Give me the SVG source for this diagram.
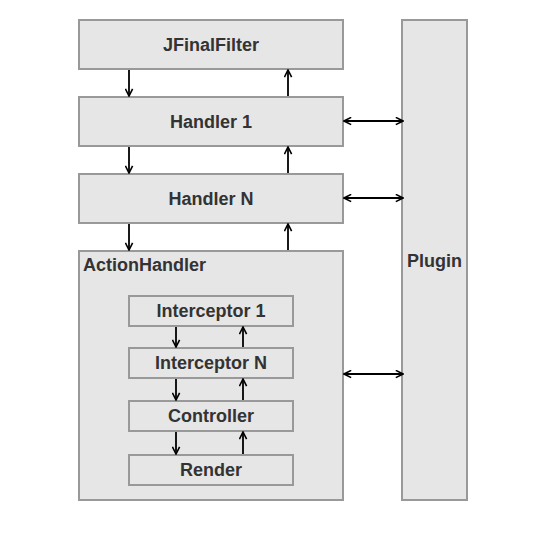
<svg xmlns="http://www.w3.org/2000/svg" width="536" height="542" viewBox="0 0 536 542">
<defs>
<marker id="ah" viewBox="0 0 10 10" refX="9" refY="5" markerWidth="9" markerHeight="9" markerUnits="userSpaceOnUse" orient="auto-start-reverse">
<path d="M1,1 L9,5 L1,9" fill="none" stroke="#000" stroke-width="1.8"/>
</marker>
<style>
.box{fill:#e6e6e6;stroke:#999;stroke-width:2}
.t{font-family:"Liberation Sans",Arial,sans-serif;font-weight:bold;font-size:18px;fill:#333;text-anchor:middle}
.c{stroke:#000;stroke-width:1.8;fill:none}
</style>
</defs>
<rect width="536" height="542" fill="#fff"/>
<g id="jfinalfilter"><rect class="box" x="79" y="20" width="264" height="49"/><text class="t" x="211" y="51">JFinalFilter</text></g>
<g id="handler1"><rect class="box" x="79" y="97" width="264" height="49"/><text class="t" x="211" y="128">Handler 1</text></g>
<g id="handlerN"><rect class="box" x="79" y="174" width="264" height="49"/><text class="t" x="211" y="205">Handler N</text></g>
<g id="actionhandler"><rect class="box" x="79" y="251" width="264" height="249"/><text class="t" x="83" y="271" style="text-anchor:start">ActionHandler</text></g>
<g id="plugin"><rect class="box" x="402" y="20" width="65" height="480"/><text class="t" x="434.5" y="267">Plugin</text></g>
<g id="interceptor1"><rect class="box" x="129" y="296" width="164" height="30"/><text class="t" x="211" y="317">Interceptor 1</text></g>
<g id="interceptorN"><rect class="box" x="129" y="348" width="164" height="30"/><text class="t" x="211" y="369">Interceptor N</text></g>
<g id="controller"><rect class="box" x="129" y="401" width="164" height="30"/><text class="t" x="211" y="422">Controller</text></g>
<g id="render"><rect class="box" x="129" y="455" width="164" height="30"/><text class="t" x="211" y="476">Render</text></g>
<g id="connectors">
<line class="c" x1="129" y1="70" x2="129" y2="96" marker-end="url(#ah)"/>
<line class="c" x1="288" y1="96" x2="288" y2="70" marker-end="url(#ah)"/>
<line class="c" x1="129" y1="147" x2="129" y2="173" marker-end="url(#ah)"/>
<line class="c" x1="288" y1="173" x2="288" y2="147" marker-end="url(#ah)"/>
<line class="c" x1="129" y1="224" x2="129" y2="250" marker-end="url(#ah)"/>
<line class="c" x1="288" y1="250" x2="288" y2="224" marker-end="url(#ah)"/>
<line class="c" x1="176" y1="327" x2="176" y2="347" marker-end="url(#ah)"/>
<line class="c" x1="243" y1="347" x2="243" y2="327" marker-end="url(#ah)"/>
<line class="c" x1="176" y1="379" x2="176" y2="400" marker-end="url(#ah)"/>
<line class="c" x1="243" y1="400" x2="243" y2="379" marker-end="url(#ah)"/>
<line class="c" x1="176" y1="432" x2="176" y2="454" marker-end="url(#ah)"/>
<line class="c" x1="243" y1="454" x2="243" y2="432" marker-end="url(#ah)"/>
<line class="c" x1="344" y1="121" x2="403" y2="121" marker-start="url(#ah)" marker-end="url(#ah)"/>
<line class="c" x1="344" y1="198" x2="403" y2="198" marker-start="url(#ah)" marker-end="url(#ah)"/>
<line class="c" x1="344" y1="374" x2="403" y2="374" marker-start="url(#ah)" marker-end="url(#ah)"/>
</g>
</svg>
